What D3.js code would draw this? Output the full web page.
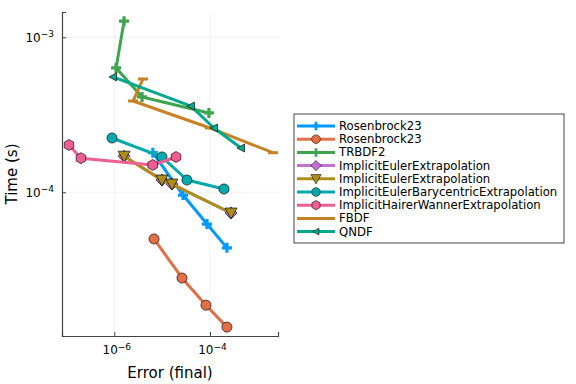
<!DOCTYPE html>
<html>
<head>
<meta charset="utf-8">
<script src="https://cdn.jsdelivr.net/npm/d3@7"></script>
<style>
  body { margin: 0; background: #fff; }
  text { font-family: "DejaVu Sans", sans-serif; fill: #000; }
</style>
</head>
<body>
<svg id="chart" width="576" height="384"></svg>
<script>
// data (error, time)
const seriesNames = ["Rosenbrock23", "Rosenbrock23", "TRBDF2", "ImplicitEulerExtrapolation",
    "ImplicitEulerExtrapolation", "ImplicitEulerBarycentricExtrapolation",
    "ImplicitHairerWannerExtrapolation", "FBDF", "QNDF"];
const seriesColors = ["#009AFA", "#E36F47", "#3EA44E", "#C271D2", "#AC8E18", "#00A9AD", "#ED5E93", "#C68225", "#00A98D"];
const seriesMarkers = ["cross", "circle", "cross", "diamond", "dtriangle", "circle", "hexagon", "hline", "ltriangle"];

const rosenbrockErr = [6.4e-6, 2.73e-5, 8.65e-5, 2.26e-4];
const rosenbrockTime = [1.80e-4, 9.6e-5, 6.24e-5, 4.38e-5];
const rosenbrock2Err = [6.76e-6, 2.6e-5, 8.24e-5, 2.26e-4];
const rosenbrock2Time = [5.0e-5, 2.8e-5, 1.87e-5, 1.35e-5];
const trbdf2Err = [1.6e-6, 1.09e-6, 3.8e-6, 9.5e-5];
const trbdf2Time = [1.27e-3, 6.34e-4, 4.12e-4, 3.25e-4];
const ieeErr = [1.6e-6, 9.9e-6, 1.6e-5, 2.75e-4];
const ieeTime = [1.71e-4, 1.2e-4, 1.13e-4, 7.35e-5];
const iee2Err = [1.6e-6, 9.9e-6, 1.6e-5, 2.75e-4];
const iee2Time = [1.71e-4, 1.2e-4, 1.13e-4, 7.35e-5];
const iebeErr = [8.95e-7, 9.9e-6, 3.3e-5, 1.96e-4];
const iebeTime = [2.24e-4, 1.69e-4, 1.2e-4, 1.05e-4];
const ihweErr = [1.13e-7, 2.01e-7, 6.35e-6, 1.95e-5];
const ihweTime = [2.02e-4, 1.66e-4, 1.5e-4, 1.69e-4];
const fbdfErr = [3.98e-6, 2.46e-6, 1.0e-4, 2.07e-3];
const fbdfTime = [5.38e-4, 3.88e-4, 2.6e-4, 1.8e-4];
const qndfErr = [9.4e-7, 4.0e-5, 1.21e-4, 4.45e-4];
const qndfTime = [5.55e-4, 3.6e-4, 2.6e-4, 1.93e-4];

const xTicks = [1e-6, 1e-4];
const yTicks = [1e-4, 1e-3];

const errs = [rosenbrockErr, rosenbrock2Err, trbdf2Err, ieeErr, iee2Err, iebeErr, ihweErr, fbdfErr, qndfErr];
const times = [rosenbrockTime, rosenbrock2Time, trbdf2Time, ieeTime, iee2Time, iebeTime, ihweTime, fbdfTime, qndfTime];

const series = seriesNames.map((name, i) => ({
    name: name,
    color: seriesColors[i],
    marker: seriesMarkers[i],
    points: errs[i].map((e, j) => ({x: e, y: times[i][j]}))
}));

const svg = d3.select("#chart");
const plotLeft = 62, plotRight = 278, plotTop = 12, plotBottom = 336;

const x = d3.scaleLog().domain([Math.pow(10, -7.093), Math.pow(10, -2.579)]).range([plotLeft, plotRight]);
const y = d3.scaleLog().domain([Math.pow(10, -4.927), Math.pow(10, -2.837)]).range([plotBottom, plotTop]);

// grid
svg.append("g").selectAll("line").data(xTicks).join("line")
    .attr("x1", d => x(d)).attr("x2", d => x(d))
    .attr("y1", plotTop).attr("y2", plotBottom)
    .attr("stroke", "#000").attr("stroke-opacity", 0.1).attr("stroke-width", 0.5);
svg.append("g").selectAll("line").data(yTicks).join("line")
    .attr("x1", plotLeft).attr("x2", plotRight)
    .attr("y1", d => y(d)).attr("y2", d => y(d))
    .attr("stroke", "#000").attr("stroke-opacity", 0.1).attr("stroke-width", 0.5);

// axes
const supLabel = (sel, exp) => {
    sel.append("tspan").text("10");
    sel.append("tspan").attr("dy", "-0.5em").attr("font-size", "9px").text(exp);
};

const xAxis = svg.append("g").attr("transform", `translate(0,${plotBottom})`)
    .call(d3.axisBottom(x).tickValues(xTicks).tickSize(-4).tickFormat(""));
xAxis.select(".domain").attr("stroke", "#444").attr("stroke-width", 1.2);
xAxis.selectAll(".tick line").attr("stroke", "#444");
xAxis.selectAll(".tick text").remove();
xAxis.selectAll(".tick").each(function(d) {
    const t = d3.select(this).append("text")
        .attr("x", 2).attr("y", 18).attr("text-anchor", "middle").attr("font-size", "12px");
    supLabel(t, "\u2212" + Math.round(-Math.log10(d)));
});

const yAxis = svg.append("g").attr("transform", `translate(${plotLeft},0)`)
    .call(d3.axisLeft(y).tickValues(yTicks).tickSize(-4).tickFormat(""));
yAxis.select(".domain").attr("stroke", "#444").attr("stroke-width", 1.2);
yAxis.selectAll(".tick line").attr("stroke", "#444");
yAxis.selectAll(".tick text").remove();
yAxis.selectAll(".tick").each(function(d) {
    const t = d3.select(this).append("text")
        .attr("x", -8).attr("y", 4).attr("text-anchor", "end").attr("font-size", "12px");
    supLabel(t, "\u2212" + Math.round(-Math.log10(d)));
});

svg.append("text").attr("x", (plotLeft + plotRight) / 2).attr("y", 378)
    .attr("text-anchor", "middle").attr("font-size", "15px").text("Error (final)");
svg.append("text").attr("transform", `translate(17,${(plotTop + plotBottom) / 2}) rotate(-90)`)
    .attr("text-anchor", "middle").attr("font-size", "15px").text("Time (s)");

// markers
function markerPath(type) {
    switch (type) {
        case "cross": {
            const a = 5, w = 1.6;
            return `M${-w},${-a}H${w}V${-w}H${a}V${w}H${w}V${a}H${-w}V${w}H${-a}V${-w}H${-w}Z`;
        }
        case "circle": return d3.symbol(d3.symbolCircle, 80)();
        case "diamond": return "M0,-6L6,0L0,6L-6,0Z";
        case "dtriangle": return "M-6,-5L6,-5L0,6Z";
        case "hexagon": {
            const r = 5.5;
            return d3.range(6).map(k => {
                const a = Math.PI / 6 + k * Math.PI / 3;
                return (k ? "L" : "M") + (r * Math.cos(a)).toFixed(2) + "," + (r * Math.sin(a)).toFixed(2);
            }).join("") + "Z";
        }
        case "hline": return "M-5,-1.5H5V1.5H-5Z";
        case "ltriangle": return "M-4,0L3.5,-4L3.5,4Z";
    }
}

const line = d3.line().x(d => x(d.x)).y(d => y(d.y));
const plot = svg.append("g");

series.forEach(s => {
    const g = plot.append("g");
    g.append("path").datum(s.points)
        .attr("d", line)
        .attr("fill", "none").attr("stroke", s.color)
        .attr("stroke-width", 3).attr("stroke-linejoin", "round");
    g.selectAll("path.m").data(s.points).join("path")
        .attr("class", "m")
        .attr("transform", d => `translate(${x(d.x)},${y(d.y)})`)
        .attr("d", markerPath(s.marker))
        .attr("fill", s.color)
        .attr("stroke", (s.marker === "cross" || s.marker === "hline") ? "none" : "#000")
        .attr("stroke-opacity", 0.8)
        .attr("stroke-width", 0.8);
});

// legend
const lg = svg.append("g").attr("transform", "translate(294,114)");
lg.append("rect").attr("width", 270).attr("height", 129)
    .attr("fill", "#fff").attr("stroke", "#444").attr("stroke-width", 1);
series.forEach((s, i) => {
    const row = lg.append("g").attr("transform", `translate(0,${12 + i * 13.2})`);
    row.append("line").attr("x1", 3).attr("x2", 41).attr("y1", 0).attr("y2", 0)
        .attr("stroke", s.color).attr("stroke-width", 3);
    row.append("path").attr("transform", "translate(22,0) scale(0.85)")
        .attr("d", markerPath(s.marker))
        .attr("fill", s.color)
        .attr("stroke", (s.marker === "cross" || s.marker === "hline") ? "none" : "#000")
        .attr("stroke-opacity", 0.8).attr("stroke-width", 0.8);
    row.append("text").attr("x", 45).attr("y", 4).attr("font-size", "11.7px").text(s.name);
});
</script>
</body>
</html>
